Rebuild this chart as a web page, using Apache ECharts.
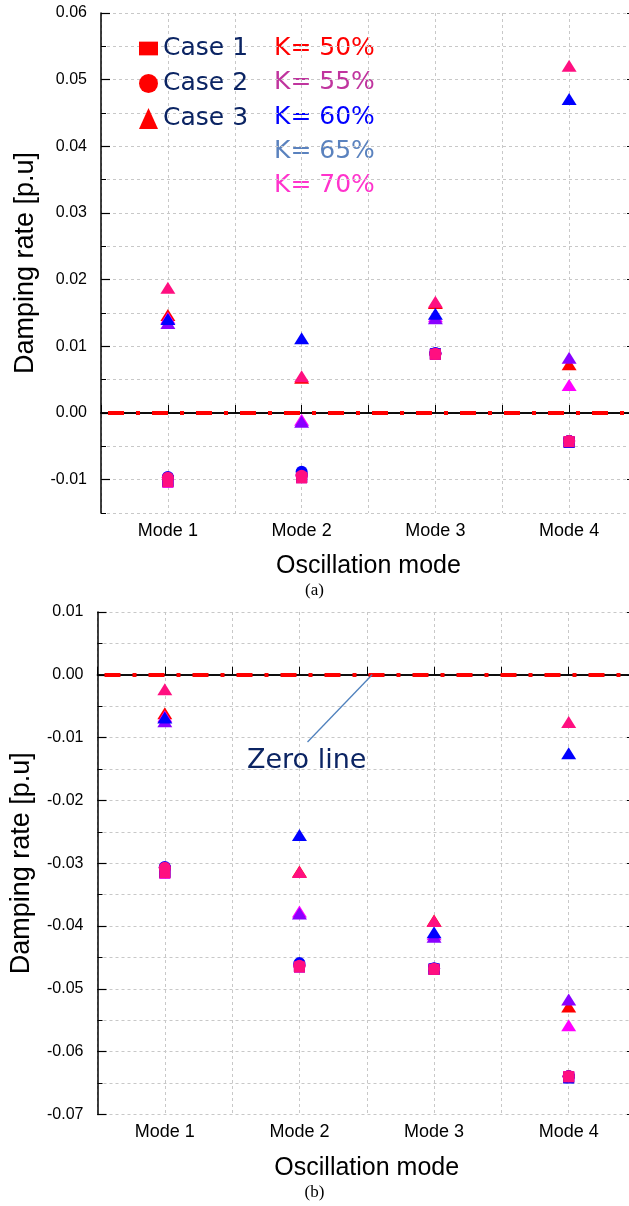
<!DOCTYPE html>
<html>
<head>
<meta charset="utf-8">
<script src="https://cdn.jsdelivr.net/npm/echarts@6/dist/echarts.min.js"></script>
<style>
html,body{margin:0;padding:0;background:#ffffff;}
#chart{width:629px;height:1206px;}
</style>
</head>
<body>
<div id="chart"></div>
<script>
// ---------------- data ----------------
const modes = ['Mode 1', 'Mode 2', 'Mode 3', 'Mode 4'];
const caseNames = ['Case 1', 'Case 2', 'Case 3'];
const kLabels = ['K= 50%', 'K= 55%', 'K= 60%', 'K= 65%', 'K= 70%'];
const yTicksA = [-0.01, 0, 0.01, 0.02, 0.03, 0.04, 0.05, 0.06];
const yTicksB = [-0.07, -0.06, -0.05, -0.04, -0.03, -0.02, -0.01, 0, 0.01];

// (a) rows = K 50%,55%,60%,65%,70%; columns = Mode 1..4
const aCase1 = [
  [-0.0103, -0.0097, 0.0088, -0.0043],
  [-0.0103, -0.0097, 0.0088, -0.0043],
  [-0.0102, -0.0096, 0.0089, -0.0044],
  [-0.0103, -0.0097, 0.0088, -0.0044],
  [-0.0104, -0.0097, 0.0088, -0.0043]
];
const aCase2 = [
  [-0.0097, -0.0093, 0.0089, -0.0042],
  [-0.0097, -0.0094, 0.0089, -0.0042],
  [-0.0096, -0.0088, 0.0090, -0.0042],
  [-0.0097, -0.0093, 0.0089, -0.0042],
  [-0.0097, -0.0094, 0.0089, -0.0042]
];
const aCase3 = [
  [0.0147, 0.0053, 0.0165, 0.0073],
  [0.0188, 0.0055, 0.0167, 0.0521],
  [0.0141, 0.0112, 0.0149, 0.0471],
  [0.0135, -0.0013, 0.0142, 0.0083],
  [0.0143, -0.0010, 0.0145, 0.0042]
];
// (b)
const bCase1 = [
  [-0.0315, -0.0465, -0.0469, -0.0640],
  [-0.0315, -0.0465, -0.0469, -0.0640],
  [-0.0314, -0.0464, -0.0468, -0.0642],
  [-0.0315, -0.0465, -0.0469, -0.0641],
  [-0.0316, -0.0465, -0.0469, -0.0640]
];
const bCase2 = [
  [-0.0307, -0.0463, -0.0468, -0.0639],
  [-0.0307, -0.0463, -0.0468, -0.0639],
  [-0.0306, -0.0459, -0.0467, -0.0639],
  [-0.0307, -0.0462, -0.0468, -0.0639],
  [-0.0307, -0.0463, -0.0468, -0.0639]
];
const bCase3 = [
  [-0.0061, -0.0313, -0.0391, -0.0528],
  [-0.0023, -0.0314, -0.0392, -0.0075],
  [-0.0068, -0.0255, -0.0410, -0.0125],
  [-0.0074, -0.0380, -0.0417, -0.0517],
  [-0.0066, -0.0377, -0.0413, -0.0558]
];
// annotation arrow (b): [boundary-axis units, value]
const arrowFrom = [1.56, -0.0107];
const arrowTo = [2.04, 0];

// ---------------- styles ----------------
const markerColors = ['#ff0000', '#ff0f80', '#0000ff', '#8a00ff', '#ff00ff'];
const markerZ = [3, 7, 6, 5, 4];
const kTextColors = ['#ff0000', '#c0349e', '#0000ff', '#5a82be', '#ff33cc'];
const navy = '#0b2463';
const shapes = [
  { symbol: 'rect', size: [11, 11] },
  { symbol: 'circle', size: 12 },
  { symbol: 'triangle', size: [15, 12] }
];
const sansFont = '"Liberation Sans", Arial, sans-serif';
const legendFont = '"DejaVu Sans", Verdana, sans-serif';
const gridLine = { color: '#c8c8c8', type: [3, 3], width: 1 };

const grids = [
  { left: 101, top: 13, width: 535, height: 500 },
  { left: 97.5, top: 612, width: 538.5, height: 502.5 }
];
const yRanges = [
  { min: -0.015, max: 0.06, ticks: yTicksA },
  { min: -0.07, max: 0.01, ticks: yTicksB }
];

const xAxes = [];
const yAxes = [];
grids.forEach((g, gi) => {
  xAxes.push({
    gridIndex: gi, type: 'category', data: modes, position: 'bottom',
    boundaryGap: true,
    axisLine: { show: true, lineStyle: { color: '#000', width: 1.5 } },
    axisTick: { show: false },
    axisLabel: { show: true, color: '#000', fontSize: 18, fontFamily: sansFont, margin: 9 },
    splitLine: { show: false },
    name: 'Oscillation mode', nameLocation: 'middle', nameGap: 41,
    nameTextStyle: { color: '#000', fontSize: 25, fontFamily: sansFont }
  });
  xAxes.push({
    gridIndex: gi, type: 'value', min: 0, max: 4, interval: 0.5, position: 'bottom',
    axisLine: { show: false },
    axisTick: { show: true, inside: true, length: 8, lineStyle: { color: '#000', width: 1 } },
    axisLabel: { show: false },
    splitLine: { show: true, lineStyle: gridLine }
  });
  xAxes.push({
    gridIndex: gi, type: 'category', data: modes, position: 'top',
    axisLine: { show: true, lineStyle: { color: '#000', width: 1.5 } },
    axisTick: { show: false }, axisLabel: { show: false }, splitLine: { show: false }
  });
  const r = yRanges[gi];
  yAxes.push({
    gridIndex: gi, type: 'value', min: r.min, max: r.max, interval: 0.005, position: 'left',
    axisLine: { show: true, lineStyle: { color: '#000', width: 1.5 } },
    axisTick: { show: true, inside: true, length: 5, lineStyle: { color: '#000', width: 1 } },
    axisLabel: {
      show: true, color: '#000', fontSize: 16, fontFamily: sansFont, margin: 14,
      formatter: v => {
        const c = Math.round(v * 1000);
        if (c % 10 !== 0) return '';
        return (Math.round(v * 100) / 100).toFixed(2);
      }
    },
    splitLine: { show: true, lineStyle: gridLine },
    name: 'Damping rate [p.u]', nameLocation: 'middle', nameGap: 62, nameRotate: 90,
    nameTextStyle: { color: '#000', fontSize: 27, fontFamily: sansFont }
  });
  yAxes.push({
    gridIndex: gi, type: 'value', min: r.min, max: r.max, interval: 0.005, position: 'left',
    axisLine: { show: false },
    axisTick: { show: true, inside: true, length: 9, customValues: r.ticks, lineStyle: { color: '#000', width: 1.2 } },
    axisLabel: { show: false }, splitLine: { show: false }
  });
  yAxes.push({
    gridIndex: gi, type: 'value', min: r.min, max: r.max, interval: 0.005, position: 'right',
    axisLine: { show: true, lineStyle: { color: '#000', width: 1.5 } },
    axisTick: { show: true, inside: true, length: 9, customValues: r.ticks, lineStyle: { color: '#000', width: 1.2 } },
    axisLabel: { show: false }, splitLine: { show: false }
  });
});

const series = [];
const chartData = [[aCase1, aCase2, aCase3], [bCase1, bCase2, bCase3]];
chartData.forEach((cases, gi) => {
  // zero line
  series.push({
    type: 'line', name: 'zero', data: [], xAxisIndex: gi * 3, yAxisIndex: gi * 3, z: 1,
    silent: true,
    markLine: {
      silent: true, z: 1, symbol: ['none', 'none'], animation: false,
      label: { show: false },
      lineStyle: { color: '#ff0000', width: 4, type: [16, 12, 4, 12], dashOffset: -7, cap: 'butt' },
      emphasis: { disabled: true },
      data: [{ yAxis: 0 }]
    }
  });
  cases.forEach((rows, ci) => {
    rows.forEach((vals, ki) => {
      series.push({
        type: 'scatter',
        name: caseNames[ci],
        xAxisIndex: gi * 3, yAxisIndex: gi * 3,
        symbol: shapes[ci].symbol,
        symbolSize: shapes[ci].size,
        z: markerZ[ki],
        itemStyle: { color: markerColors[ki], opacity: 1 },
        data: modes.map((m, i) => ({ value: [m, vals[i]], name: kLabels[ki] }))
      });
    });
  });
});
// arrow for "Zero line" annotation in (b)
series.push({
  type: 'line', name: 'arrow', data: [], xAxisIndex: 4, yAxisIndex: 3, z: 8, silent: true,
  markLine: {
    silent: true, z: 8, animation: false,
    symbol: ['none', 'arrow'], symbolSize: [0, 9],
    label: { show: false },
    lineStyle: { color: '#4f81bd', width: 1.3, type: 'solid' },
    emphasis: { disabled: true },
    data: [[{ coord: arrowFrom }, { coord: arrowTo }]]
  }
});

const graphics = [];
kLabels.forEach((t, i) => {
  graphics.push({
    type: 'text', left: 274, top: 46.7 + i * 34.4 - 11,
    style: { text: t, fill: kTextColors[i], font: '25px ' + legendFont }
  });
});
graphics.push({
  type: 'text', left: 247, top: 747,
  style: { text: 'Zero line', fill: navy, font: '27px ' + legendFont }
});
graphics.push({
  type: 'text', left: 'center', top: 582,
  style: { text: '(a)', fill: '#000', font: '17px "Liberation Serif", "Times New Roman", serif' }
});
graphics.push({
  type: 'text', left: 'center', top: 1184,
  style: { text: '(b)', fill: '#000', font: '17px "Liberation Serif", "Times New Roman", serif' }
});

const chart = echarts.init(document.getElementById('chart'), null, { renderer: 'canvas' });
chart.setOption({
  animation: false,
  backgroundColor: '#ffffff',
  grid: grids.map(g => Object.assign({ containLabel: false, outerBoundsMode: 'none' }, g)),
  xAxis: xAxes,
  yAxis: yAxes,
  legend: {
    show: true, orient: 'vertical', left: 134, top: 31,
    itemWidth: 19, itemHeight: 21, itemGap: 10, selectedMode: false,
    textStyle: { color: navy, fontSize: 25, fontFamily: legendFont },
    data: [
      { name: 'Case 1', icon: 'path://M0,0H18V13H0Z', itemStyle: { color: '#ff0000' } },
      { name: 'Case 2', icon: 'circle', itemStyle: { color: '#ff0000' } },
      { name: 'Case 3', icon: 'triangle', itemStyle: { color: '#ff0000' } }
    ]
  },
  tooltip: { show: false },
  graphic: graphics,
  series: series
});
</script>
</body>
</html>
